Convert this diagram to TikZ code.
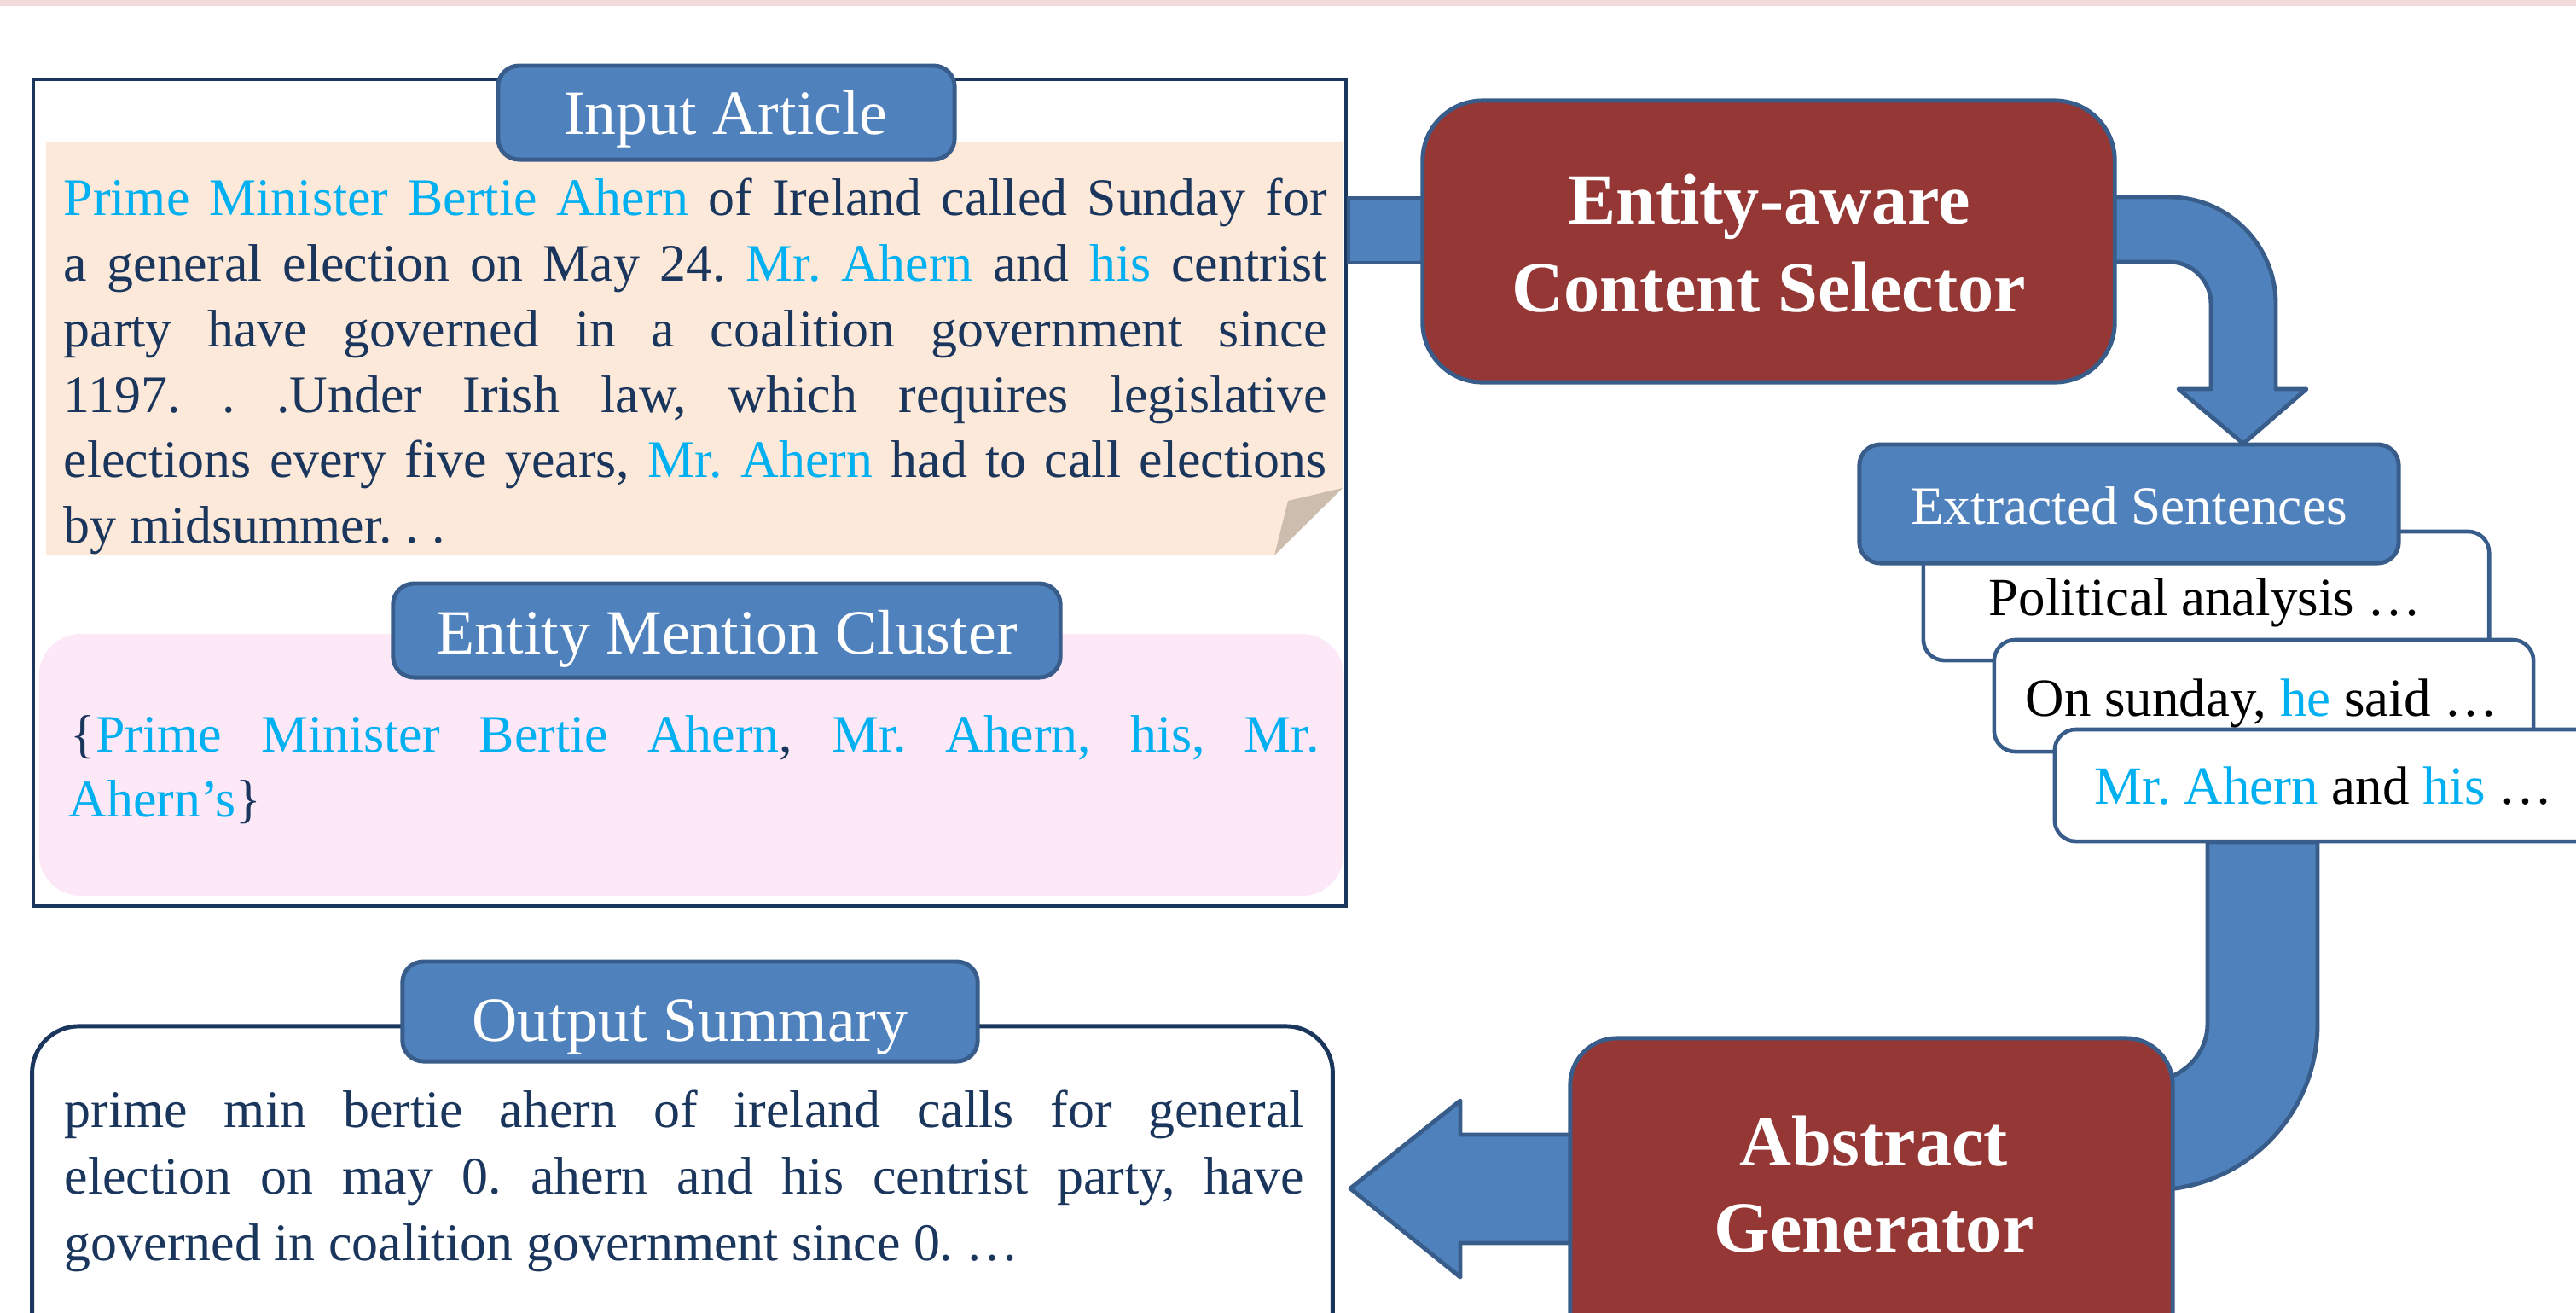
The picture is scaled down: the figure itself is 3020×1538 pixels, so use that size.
\documentclass[tikz,border=0pt]{standalone}
\usepackage{fontspec}
\setmainfont{Liberation Serif}
\frenchspacing
\definecolor{blu}{HTML}{4F81BD}
\definecolor{blud}{HTML}{385D8A}
\definecolor{redb}{HTML}{953735}
\definecolor{navy}{HTML}{1B365D}
\definecolor{cy}{HTML}{00B0F0}
\definecolor{peach}{HTML}{FDE9D9}
\definecolor{pinkb}{HTML}{FDE8F7}
\definecolor{foldc}{HTML}{CDBDAF}
\definecolor{bandc}{HTML}{F2DCDB}
\newcommand{\cyt}[1]{\textcolor{cy}{#1}}
\tikzset{
  tabbox/.style={draw=blud, fill=blu, line width=1.4pt, rounded corners=7pt, inner sep=0},
  tabtxt/.style={anchor=base, inner sep=0, text=white, font=\fontsize{21}{25}\selectfont},
  redbox/.style={draw=blud, fill=redb, line width=1.4pt, inner sep=0},
  boldtxt/.style={anchor=base, inner sep=0, text=white, font=\fontsize{24}{29}\selectfont\bfseries},
  bodytxt/.style={anchor=base west, inner sep=0, text=navy, font=\fontsize{17.6}{21.9}\selectfont\frenchspacing},
  cardbox/.style={draw=blud, fill=white, line width=1.3pt, rounded corners=7pt, inner sep=0},
  cardtxt/.style={anchor=base west, inner sep=0, text=black, font=\fontsize{17.9}{21.9}\selectfont},
  blockarrow/.style={draw=blud, fill=blu, line width=1.4pt, line join=round},
}
\begin{document}
\begin{tikzpicture}[x=0.01cm, y=-0.01cm]
\path[use as bounding box, clip] (0,0) rectangle (3020,1538);
% top band
\fill[bandc] (0,0) rectangle (3020,7);

% ---------- Input article frame ----------
\node[draw=navy, line width=1.15pt, minimum width=15.39cm, minimum height=9.69cm, inner sep=0] (frame) at (808.5,577.5) {};
\fill[peach] (54,167) -- (1574,167) -- (1574,572) -- (1494,651) -- (54,651) -- cycle;
\fill[foldc] (1494,651) -- (1510,587) -- (1574,572) -- cycle;
\node[fill=pinkb, rounded corners=14pt, minimum width=15.29cm, minimum height=3.07cm, inner sep=0] (pinkarea) at (810.5,896.5) {};

\node[tabbox, minimum width=5.35cm, minimum height=1.10cm] (tabIA) at (851.5,132) {};
\node[tabtxt] (tabIAt) at (851,157) {Input Article};
\node[tabbox, minimum width=7.82cm, minimum height=1.10cm] (tabEM) at (852,739) {};
\node[tabtxt] (tabEMt) at (852,766) {Entity Mention Cluster};

% article text
\node[bodytxt] (l1) at (74,252) {\makebox[14.80cm][s]{\cyt{Prime Minister Bertie Ahern} of Ireland called Sunday for}};
\node[bodytxt] (l2) at (74,329) {\makebox[14.80cm][s]{a general election on May 24. \cyt{Mr. Ahern} and \cyt{his} centrist}};
\node[bodytxt] (l3) at (74,406) {\makebox[14.80cm][s]{party have governed in a coalition government since}};
\node[bodytxt] (l4) at (74,483) {\makebox[14.80cm][s]{1197. . .Under Irish law, which requires legislative}};
\node[bodytxt] (l5) at (74,559) {\makebox[14.80cm][s]{elections every five years, \cyt{Mr. Ahern} had to call elections}};
\node[bodytxt] (l6) at (74,636) {by midsummer. . .};

\node[bodytxt] (c1) at (82,881) {\makebox[14.63cm][s]{\{\cyt{Prime Minister Bertie Ahern}, \cyt{Mr. Ahern, his, Mr.}}};
\node[bodytxt] (c2) at (80,957) {\cyt{Ahern’s}\}};

% ---------- connector to selector ----------
\draw[blockarrow] (1581,232) rectangle (1690,308);
% curved arrow selector -> extracted sentences
\draw[blockarrow] (2460,231) -- (2543,231) .. controls (2612,231) and (2668,287) .. (2668,356)
  -- (2668,456) -- (2704,456) -- (2630,520) -- (2554,456) -- (2592,456) -- (2592,356)
  .. controls (2592,329) and (2570,307) .. (2543,307) -- (2460,307) -- cycle;

\node[redbox, rounded corners=20pt, minimum width=8.11cm, minimum height=3.30cm] (sel) at (2073.5,283) {};
\node[boldtxt] (selt1) at (2074,262) {Entity-aware};
\node[boldtxt] (selt2) at (2074,365) {Content Selector};

% ---------- extracted sentences ----------
\node[cardbox, minimum width=6.63cm, minimum height=1.51cm] (card1) at (2586.5,698.5) {};
\node[cardbox, minimum width=6.32cm, minimum height=1.31cm] (card2) at (2654,815.5) {};
\node[cardbox, minimum width=7.11cm, minimum height=1.31cm] (card3) at (2764.5,920.5) {};
\node[tabbox, minimum width=6.32cm, minimum height=1.39cm] (tabES) at (2496,590.5) {};
\node[tabtxt, font=\fontsize{18}{22}\selectfont] (tabESt) at (2496,614) {Extracted Sentences};
\node[cardtxt] (s1) at (2331,721) {Political analysis …};
\node[cardtxt] (s2) at (2374,839) {On sunday, \cyt{he} said …};
\node[cardtxt] (s3) at (2455,942) {\cyt{Mr. Ahern} and \cyt{his} …};

% ---------- down bar into generator ----------
\draw[blockarrow] (2588,987) -- (2717,987) -- (2717,1200) .. controls (2717,1308) and (2630,1395) .. (2522,1395)
  -- (2480,1395) -- (2480,1266) -- (2522,1266) .. controls (2558,1266) and (2588,1236) .. (2588,1200) -- cycle;
% left arrow generator -> output
\draw[blockarrow] (1860,1330) -- (1712,1330) -- (1712,1290) -- (1583,1393) -- (1712,1497) -- (1712,1457) -- (1860,1457) -- cycle;

\node[redbox, rounded corners=15.6pt, minimum width=7.06cm, minimum height=4.23cm] (gen) at (2194,1428.5) {};
\node[boldtxt] (gent1) at (2197,1366) {Abstract};
\node[boldtxt] (gent2) at (2197,1467) {Generator};

% ---------- output summary ----------
\node[draw=navy, fill=white, line width=1.4pt, rounded corners=15.6pt, minimum width=15.24cm, minimum height=4.57cm, inner sep=0] (outbox) at (800,1431.5) {};
\node[tabbox, minimum width=6.74cm, minimum height=1.17cm] (tabOS) at (809,1185.5) {};
\node[tabtxt] (tabOSt) at (809,1220) {Output Summary};
\node[bodytxt] (o1) at (75,1321) {\makebox[14.52cm][s]{prime min bertie ahern of ireland calls for general}};
\node[bodytxt] (o2) at (75,1399) {\makebox[14.52cm][s]{election on may 0. ahern and his centrist party, have}};
\node[bodytxt] (o3) at (75,1477) {governed in coalition government since 0. …};
\end{tikzpicture}
\end{document}
